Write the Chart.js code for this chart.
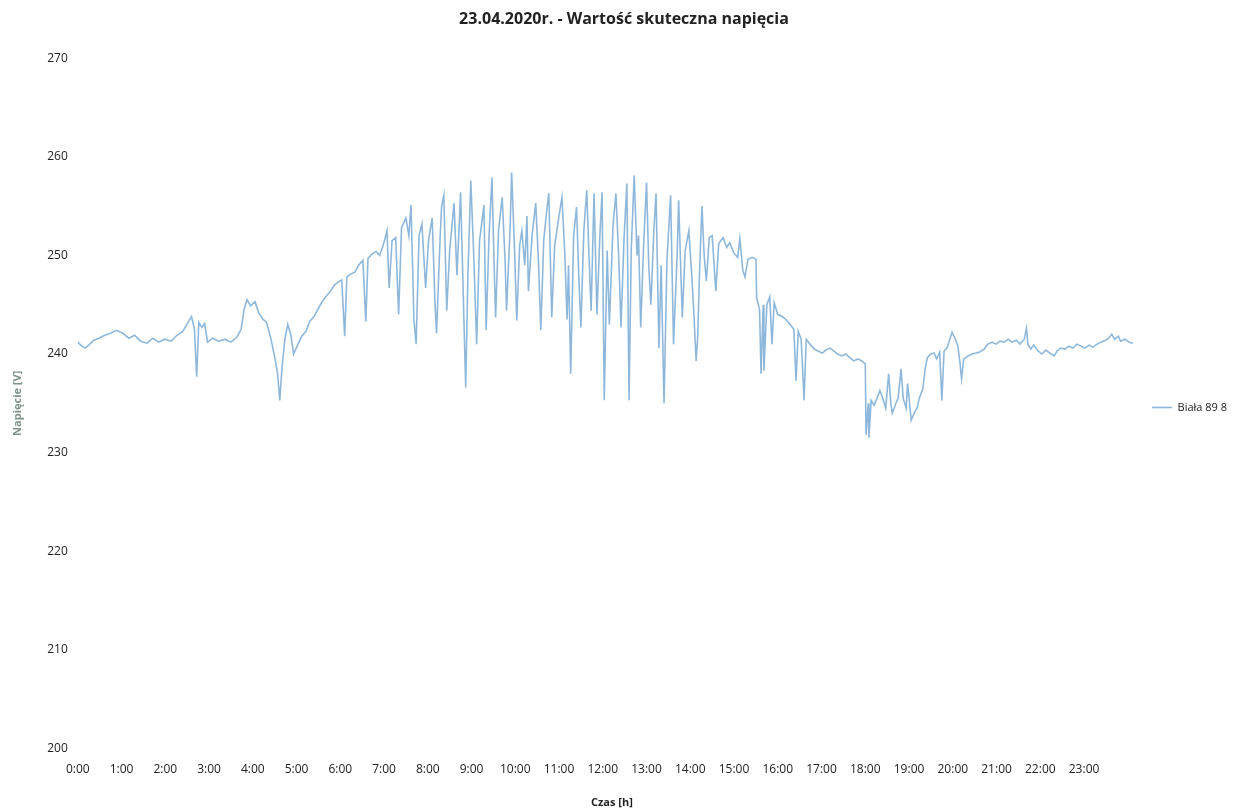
<!DOCTYPE html>
<html>
<head>
<meta charset="utf-8">
<script src="https://cdn.jsdelivr.net/npm/chart.js@4.4.1/dist/chart.umd.min.js"></script>
<style>
  html, body { margin: 0; padding: 0; background: #fff; }
  #wrap { width: 1239px; height: 809px; }
</style>
</head>
<body>
<div id="wrap"><canvas id="voltChart" width="1239" height="809"></canvas></div>
<script>
const chartTitle = '23.04.2020r. - Wartość skuteczna napięcia';
const seriesName = 'Biała 89 8';
const xTitle = 'Czas [h]';
const yTitle = 'Napięcie [V]';
const yTicks = [200, 210, 220, 230, 240, 250, 260, 270];
const hourTicks = [0, 60, 120, 180, 240, 300, 360, 420, 480, 540, 600, 660, 720, 780, 840, 900, 960, 1020, 1080, 1140, 1200, 1260, 1320, 1380];

// minutes since midnight
const minutesOfDay = [
  0, 4, 10, 15, 22, 29, 37, 45, 53, 62, 70, 78, 86, 95, 103, 111, 119, 128, 136, 144,
  152, 156, 160, 163, 166, 170, 174, 178, 185, 193, 202, 210, 218, 224, 228, 232, 237, 243, 248, 254,
  259, 265, 270, 274, 277, 280, 284, 288, 292, 296, 302, 307, 313, 318, 324, 329, 335, 340, 346, 351,
  357, 362, 366, 369, 374, 380, 385, 391, 395, 398, 403, 409, 414, 420, 424, 427, 431, 436, 440, 444,
  450, 454, 457, 461, 464, 468, 472, 477, 481, 486, 490, 492, 497, 499, 502, 506, 510, 516, 520, 523,
  525, 529, 532, 535, 539, 543, 547, 551, 557, 560, 564, 568, 571, 573, 577, 582, 586, 588, 593, 595,
  599, 602, 606, 609, 613, 616, 618, 623, 628, 632, 635, 639, 643, 646, 650, 654, 660, 664, 668, 671,
  673, 676, 680, 684, 687, 690, 694, 698, 701, 704, 708, 712, 716, 719, 722, 726, 729, 734, 738, 742,
  745, 749, 753, 756, 759, 763, 767, 769, 772, 776, 780, 783, 786, 790, 793, 797, 800, 804, 808, 813,
  817, 822, 824, 829, 833, 838, 842, 845, 848, 850, 853, 856, 859, 862, 866, 870, 875, 879, 885, 890,
  894, 900, 905, 908, 912, 915, 919, 925, 930, 931, 935, 937, 940, 941, 945, 949, 952, 955, 960, 966,
  971, 977, 982, 985, 988, 992, 995, 996, 999, 1004, 1010, 1015, 1021, 1026, 1032, 1037, 1042, 1048, 1053, 1059,
  1064, 1070, 1075, 1080, 1081, 1084, 1085, 1088, 1092, 1096, 1100, 1104, 1108, 1112, 1115, 1117, 1122, 1125, 1129, 1132,
  1136, 1138, 1143, 1147, 1151, 1154, 1159, 1162, 1165, 1170, 1174, 1178, 1182, 1185, 1188, 1192, 1196, 1199, 1203, 1207,
  1210, 1212, 1215, 1221, 1226, 1232, 1237, 1243, 1248, 1254, 1259, 1265, 1270, 1276, 1281, 1287, 1292, 1298, 1301, 1303,
  1307, 1311, 1317, 1322, 1328, 1333, 1339, 1343, 1348, 1354, 1359, 1365, 1370, 1376, 1381, 1387, 1392, 1398, 1403, 1409,
  1414, 1418, 1422, 1427, 1430, 1436, 1442, 1447
];

const voltage = [
  241.2, 240.9, 240.6, 240.9, 241.4, 241.6, 241.9, 242.1, 242.4, 242.1, 241.6, 241.9, 241.3, 241.1, 241.6, 241.2, 241.5, 241.3, 241.9, 242.3,
  243.3, 243.8, 242.5, 237.7, 243.2, 242.7, 243.1, 241.2, 241.6, 241.3, 241.5, 241.2, 241.7, 242.5, 244.5, 245.5, 244.9, 245.3, 244.2, 243.5,
  243.2, 241.5, 239.7, 238.0, 235.3, 238.5, 241.5, 243.0, 242.0, 240.0, 241.0, 241.8, 242.3, 243.3, 243.8, 244.5, 245.3, 245.8, 246.3, 246.9,
  247.3, 247.5, 241.8, 247.8, 248.1, 248.3, 249.0, 249.5, 243.3, 249.7, 250.1, 250.4, 250.0, 251.3, 252.5, 246.7, 251.5, 251.8, 244.0, 252.8,
  253.8, 252.0, 255.1, 243.5, 241.0, 252.0, 253.2, 246.7, 251.5, 253.8, 245.0, 242.1, 252.0, 255.0, 256.1, 244.4, 250.5, 255.3, 248.0, 253.0,
  256.4, 245.0, 236.6, 248.0, 257.6, 250.0, 241.0, 251.5, 255.1, 242.4, 252.0, 257.9, 249.0, 243.7, 252.5, 255.9, 249.5, 244.4, 253.0, 258.4,
  250.5, 243.4, 251.0, 252.5, 249.0, 254.0, 246.4, 252.0, 255.3, 249.0, 242.4, 251.5, 254.5, 256.3, 243.7, 251.0, 254.0, 255.9, 250.0, 243.5,
  249.0, 238.0, 252.0, 254.9, 248.0, 242.7, 252.5, 256.6, 250.0, 244.4, 256.3, 244.0, 252.0, 256.4, 235.3, 250.5, 243.0, 253.0, 256.3, 249.5,
  242.7, 251.5, 257.3, 235.3, 250.5, 258.1, 250.0, 252.0, 242.7, 251.0, 257.4, 249.0, 245.0, 252.5, 256.3, 240.6, 249.0, 235.0, 249.5, 256.1,
  241.0, 250.0, 255.6, 243.7, 250.5, 252.5, 248.0, 244.0, 239.3, 241.5, 249.0, 255.0, 250.0, 247.4, 251.8, 252.0, 246.4, 251.2, 251.8, 250.8,
  251.3, 250.2, 249.8, 251.7, 248.5, 247.8, 249.6, 249.8, 249.6, 245.7, 244.5, 238.0, 245.0, 238.3, 245.0, 245.8, 241.0, 245.2, 244.0, 243.8,
  243.5, 243.0, 242.5, 237.3, 242.3, 241.5, 237.0, 235.3, 241.5, 241.0, 240.5, 240.3, 240.1, 240.4, 240.6, 240.3, 240.0, 239.8, 240.0, 239.6,
  239.3, 239.5, 239.3, 239.0, 231.8, 235.0, 231.5, 235.3, 234.8, 235.5, 236.3, 235.5, 234.5, 238.0, 235.0, 234.0, 235.0, 235.5, 238.5, 235.5,
  234.5, 237.0, 233.3, 234.0, 234.5, 235.5, 236.5, 238.5, 239.6, 240.0, 240.1, 239.5, 240.2, 235.3, 240.3, 240.6, 241.5, 242.2, 241.6, 240.8,
  239.0, 237.5, 239.5, 239.8, 240.0, 240.1, 240.2, 240.5, 241.0, 241.2, 241.0, 241.3, 241.2, 241.5, 241.2, 241.4, 241.0, 241.5, 242.6, 241.0,
  240.5, 240.9, 240.3, 240.0, 240.4, 240.1, 239.8, 240.3, 240.6, 240.5, 240.8, 240.6, 241.0, 240.8, 240.6, 240.9, 240.7, 241.0, 241.2, 241.4,
  241.6, 242.0, 241.5, 241.8, 241.3, 241.5, 241.2, 241.1
];

const points = minutesOfDay.map((m, i) => ({ x: m, y: voltage[i] }));
const font = "'Open Sans', 'Noto Sans', sans-serif";

const chart = new Chart(document.getElementById('voltChart').getContext('2d'), {
  type: 'line',
  data: {
    datasets: [{
      label: seriesName,
      data: points,
      borderColor: 'rgba(88,150,202,0.68)',
      backgroundColor: 'rgba(190,214,232,1)',
      borderWidth: 1.6,
      pointRadius: 0,
      tension: 0,
      fill: false
    }]
  },
  options: {
    responsive: false,
    animation: false,
    layout: { padding: { left: 11, right: 2, top: 6, bottom: 0 } },
    plugins: {
      title: {
        display: true,
        text: chartTitle,
        color: '#222',
        font: { family: font, size: 16, weight: 'bold' },
        padding: { top: 4, bottom: 29 }
      },
      legend: {
        position: 'right',
        labels: {
          color: '#222',
          font: { family: font, size: 11 },
          usePointStyle: true,
          pointStyle: 'line',
          pointStyleWidth: 20,
          boxWidth: 20,
          padding: 6
        }
      },
      tooltip: { enabled: false }
    },
    scales: {
      x: {
        type: 'linear',
        min: 0,
        max: 1465,
        afterBuildTicks: s => { s.ticks = hourTicks.map(v => ({ value: v })); },
        ticks: {
          color: '#222',
          font: { family: font, size: 12 },
          maxRotation: 0,
          autoSkip: false,
          padding: 6,
          callback: v => Math.floor(v / 60) + ':00'
        },
        grid: { display: false },
        border: { display: false },
        title: {
          display: true,
          text: xTitle,
          color: '#222',
          font: { family: font, size: 11, weight: 'bold' },
          padding: { top: 13, bottom: 0 }
        }
      },
      y: {
        min: 200,
        max: 270,
        afterBuildTicks: s => { s.ticks = yTicks.map(v => ({ value: v })); },
        ticks: {
          color: '#222',
          font: { family: font, size: 12 },
          padding: 2
        },
        grid: { display: false },
        border: { display: false },
        title: {
          display: true,
          text: yTitle,
          color: '#7f9488',
          font: { family: font, size: 11, weight: 'bold' },
          padding: { top: 0, bottom: 21 }
        }
      }
    }
  }
});
</script>
</body>
</html>
